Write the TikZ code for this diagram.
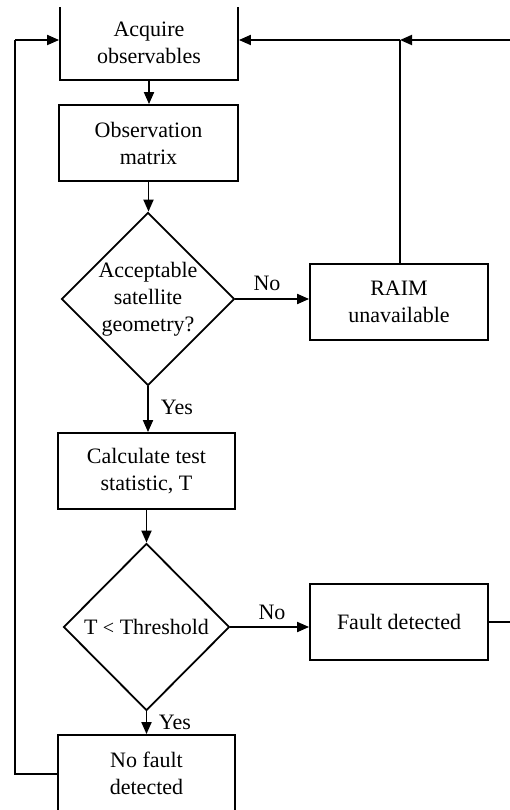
\documentclass[tikz,border=0pt]{standalone}
\usepackage{fontspec}
\setmainfont{Liberation Serif}
\usetikzlibrary{shapes.geometric,arrows.meta}
\tikzset{
  box/.style={draw,line width=1.8pt,rectangle,inner sep=0pt,align=center,minimum width=#1},
  box/.default=178pt,
  dia/.style={draw,line width=1.8pt,diamond,inner sep=0pt,align=center,minimum width=166pt,minimum height=167pt},
  conn/.style={line width=1.8pt},
  arr/.style={conn,-{Triangle[length=12pt,width=10pt]}},
  lbl/.style={inner sep=0pt}
}
\begin{document}
\begin{tikzpicture}[x=1pt,y=-1pt,font=\fontsize{22}{27}\selectfont]
\useasboundingbox (0,0) rectangle (510,810);
\clip (0,7.2) rectangle (510,810);
\node[box,minimum height=74pt] (acq) at (149,43) {Acquire\\observables};
\node[box=179pt,minimum height=76pt] (obs) at (148.5,143) {Observation\\matrix};
\node[dia] (d1) at (148,299) {Acceptable\\satellite\\geometry?};
\node[box,minimum height=76pt] (raim) at (399,302) {RAIM\\unavailable};
\node[box=177pt,minimum height=76pt] (calc) at (146.5,471) {Calculate test\\statistic, T};
\node[dia] (d2) at (146.5,627) {T {\fontsize{20}{27}\selectfont<} Threshold};
\node[box,minimum height=76pt] (fault) at (399,622) {Fault detected};
\node[box=177pt,minimum height=77pt] (nf) at (146.5,773.5) {No fault\\detected};
\coordinate (j) at (400,40);
\coordinate (rin) at (511,40);
\coordinate (rout) at (511,622);
\coordinate (lc) at (15,40);
\coordinate (lb) at (15,774);
\node[lbl] (no1) at (267,283) {No};
\node[lbl] (yes1) at (177,407) {Yes};
\node[lbl] (no2) at (272,612) {No};
\node[lbl] (yes2) at (175,722) {Yes};
\draw[arr] (acq.south) -- (acq.south |- obs.north);
\draw[arr] (obs.south) -- (obs.south |- d1.north);
\draw[arr] (d1.east) -- (d1.east -| raim.west);
\draw[arr] (d1.south) -- (d1.south |- calc.north);
\draw[arr] (calc.south) -- (d2.north);
\draw[arr] (d2.east) -- (d2.east -| fault.west);
\draw[arr] (d2.south) -- (nf.north);
\draw[conn] (raim.north -| j) -- (j);
\draw[arr] (j) -- (j -| acq.east);
\draw[arr] (rin) -- (j);
\draw[conn] (fault.east |- rout) -- (rout);
\draw[conn] (nf.west |- lb) -- (lb) -- (lc);
\draw[arr] (lc) -- (lc -| acq.west);
\end{tikzpicture}
\end{document}
